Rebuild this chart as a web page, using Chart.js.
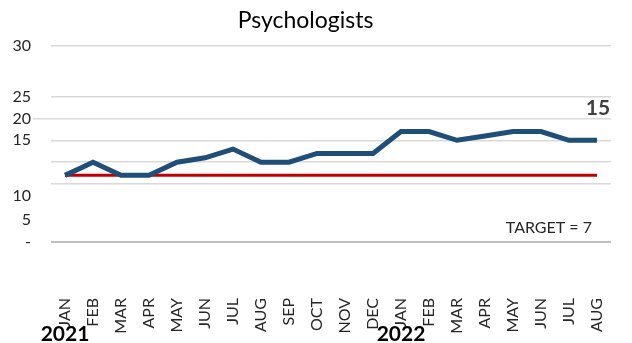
<!DOCTYPE html>
<html>
<head>
<meta charset="utf-8">
<script src="https://cdn.jsdelivr.net/npm/chart.js@4"></script>
<style>
  html, body { margin: 0; padding: 0; background: #fff; }
  #wrap { width: 632px; height: 343px; }
</style>
</head>
<body>
<div id="wrap"><canvas id="psych-chart"></canvas></div>
<script>
var months = ['JAN', 'FEB', 'MAR', 'APR', 'MAY', 'JUN', 'JUL', 'AUG', 'SEP', 'OCT', 'NOV', 'DEC',
              'JAN', 'FEB', 'MAR', 'APR', 'MAY', 'JUN', 'JUL', 'AUG'];
var years = ['2021', '2022'];
var year_start_index = [0, 12];
var psychologists = [7, 10, 7, 7, 10, 11, 13, 10, 10, 12, 12, 12,
                     17, 17, 15, 16, 17, 17, 15, 15];
var target = 7;

// value axis: where the labels sit and which of them carry a grid line
var y_min = -8.2;
var y_max = 36.6;
var y_tick_values = [36.6, 25, 20, 15, 10, 5, 2.3, -3.2, -8.2];
var y_tick_labels = ['30', '25', '20', '15', '', '', '10', '5', '-'];
var y_grid_values = [36.6, 25, 20, 15, 10, 5, -8.2];

var font_family = 'Lato, "Open Sans", sans-serif';
var text_color = '#262626';

var target_data = months.map(function() { return target; });

var annotations = {
  id: 'annotations',
  afterDatasetsDraw: function(chart) {
    var c = chart.ctx;
    var x = chart.scales.x;
    var area = chart.chartArea;
    c.save();

    // years under the first month of each
    c.font = 'bold 21px ' + font_family;
    c.fillStyle = '#000';
    c.textAlign = 'center';
    c.textBaseline = 'middle';
    years.forEach(function(year, i) {
      c.fillText(year, x.getPixelForValue(year_start_index[i]), 334);
    });

    // latest value above the last point
    var meta = chart.getDatasetMeta(0);
    var last = meta.data[meta.data.length - 1];
    c.fillStyle = '#404040';
    c.fillText(String(psychologists[psychologists.length - 1]), last.x + 1, last.y - 32);

    // target caption
    c.font = '16px ' + font_family;
    c.fillStyle = text_color;
    c.textAlign = 'right';
    c.textBaseline = 'alphabetic';
    c.fillText('TARGET = ' + target, last.x - 5, area.bottom - 9);

    c.restore();
  }
};

var ctx = document.getElementById('psych-chart').getContext('2d');
var chart = new Chart(ctx, {
  type: 'line',
  data: {
    labels: months,
    datasets: [
      {
        label: 'Psychologists',
        data: psychologists,
        borderColor: '#1F4E79',
        borderWidth: 5,
        pointRadius: 0,
        tension: 0,
        order: 1
      },
      {
        label: 'Target',
        data: target_data,
        borderColor: '#C00000',
        borderWidth: 3,
        pointRadius: 0,
        tension: 0,
        order: 2
      }
    ]
  },
  options: {
    responsive: true,
    maintainAspectRatio: false,
    animation: false,
    layout: { padding: { left: 0, right: 21, top: 0, bottom: 0 } },
    scales: {
      x: {
        offset: true,
        grid: { display: false },
        border: { display: false },
        ticks: {
          minRotation: 90,
          maxRotation: 90,
          autoSkip: false,
          padding: 48,
          color: text_color,
          font: { family: font_family, size: 16 }
        },
        afterFit: function(scale) {
          scale.height = 101;
          scale.paddingLeft = 0;
          scale.paddingRight = 0;
        }
      },
      y: {
        min: y_min,
        max: y_max,
        border: { display: false },
        afterBuildTicks: function(scale) {
          scale.ticks = y_tick_values.map(function(v) { return { value: v }; });
        },
        afterFit: function(scale) { scale.width = 51; },
        grid: {
          drawTicks: true,
          tickLength: 18,
          tickColor: function(c) {
            return c.tick && c.tick.value === 20 ? '#D9D9D9' : 'rgba(0,0,0,0)';
          },
          color: function(c) {
            if (!c.tick || y_grid_values.indexOf(c.tick.value) < 0) return 'rgba(0,0,0,0)';
            return c.tick.value === y_min ? '#BFBFBF' : '#D9D9D9';
          },
          lineWidth: function(c) {
            return c.tick && c.tick.value === y_min ? 2 : 1.5;
          }
        },
        ticks: {
          padding: 2,
          color: text_color,
          font: { family: font_family, size: 16 },
          callback: function(value, index) {
            return y_tick_labels[index];
          }
        }
      }
    },
    plugins: {
      legend: { display: false },
      tooltip: { enabled: false },
      title: {
        display: true,
        text: 'Psychologists',
        color: '#000',
        font: { family: font_family, size: 23, weight: 'normal' },
        padding: { top: 7, bottom: 11 }
      }
    }
  },
  plugins: [annotations]
});
</script>
</body>
</html>
